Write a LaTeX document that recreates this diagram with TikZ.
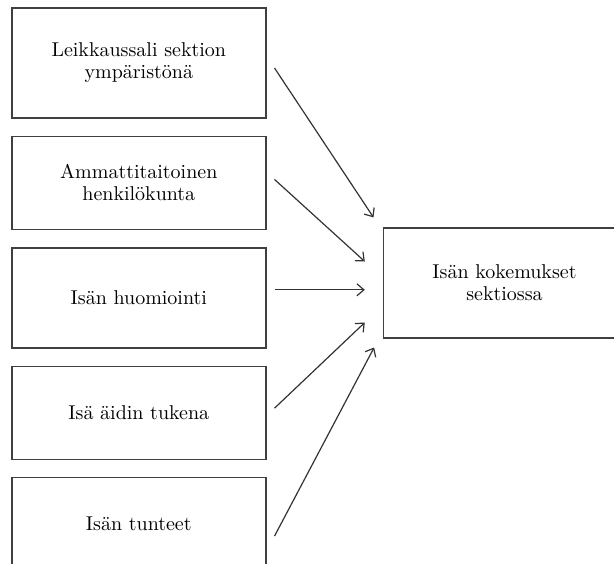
\documentclass[tikz,border=0pt]{standalone}
\usepackage{tikz}
\usetikzlibrary{positioning,arrows.meta}
\begin{document}
\begin{tikzpicture}
 	\tikzstyle{main}=[rectangle, draw=black!75, line width=0.7pt, minimum width=127pt, align=center, font=\fontsize{10}{11}\selectfont, node distance=8.5pt]
 	\tikzstyle{connect}=[-{Straight Barb[length=3.5pt,width=6pt]}, line width=0.6pt, draw=black!80]
 	\useasboundingbox (0,0) rectangle (307pt,-281.5pt);
 	\node[main, minimum height=55pt] (ymp) at (69.4pt,-31.5pt) {Leikkaussali sektion\\ympäristönä};
 	\node[main, minimum height=46.5pt] (henk) [below=of ymp] {Ammattitaitoinen\\henkilökunta};
 		\node[main, minimum height=50pt] (huom) [below=of henk] {Isän huomiointi};
 		\node[main, minimum height=46.5pt] (tuki) [below=of huom] {Isä äidin tukena};
 	\node[main, minimum height=46.5pt] (tunt) [below=of tuki] {Isän tunteet};
 	\node[main, minimum height=55pt, minimum width=121.3pt] (kok) [right=58pt of huom, yshift=7.5pt] {Isän kokemukset\\sektiossa};
 	\path ([xshift=4pt,yshift=-2.5pt]ymp.east) edge [connect] ([xshift=-4.5pt,yshift=4.85pt]kok.north west)
 	([xshift=4pt,yshift=1.75pt]henk.east) edge [connect] ([xshift=-8.85pt,yshift=10.65pt]kok.west)
 	([xshift=4pt,yshift=4pt]huom.east) edge [connect] ([xshift=-8.85pt,yshift=-3.5pt]kok.west)
 	([xshift=4pt,yshift=2.25pt]tuki.east) edge [connect] ([xshift=-8.85pt,yshift=8pt]kok.south west)
 		([xshift=4pt,yshift=-6pt]tunt.east) edge [connect] ([xshift=-4.2pt,yshift=-4.5pt]kok.south west);
 	\end{tikzpicture}
\end{document}
